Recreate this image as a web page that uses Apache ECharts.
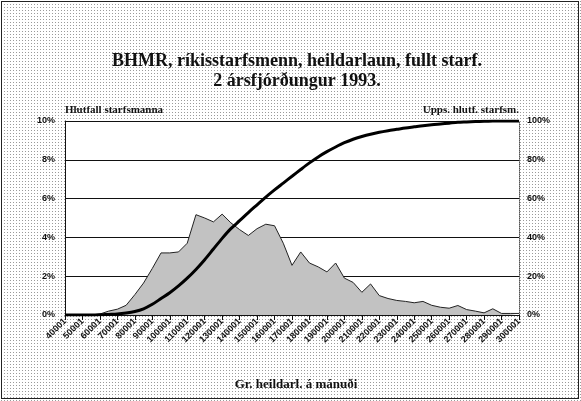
<!DOCTYPE html>
<html>
<head>
<meta charset="utf-8">
<script src="https://cdn.jsdelivr.net/npm/echarts@6/dist/echarts.min.js"></script>
<style>
    html, body {
        margin: 0;
        padding: 0;
        width: 581px;
        height: 401px;
        overflow: hidden;
        background-color: #fff;
        background-image: radial-gradient(#9a9a9a 0.7px, transparent 0.9px);
        background-size: 3px 3px;
    }
    .frame {
        position: absolute;
        left: 1px;
        top: 1px;
        width: 576px;
        height: 396px;
        border: 1px solid #222;
    }
    #chart {
        position: absolute;
        left: 0;
        top: 0;
        width: 581px;
        height: 401px;
    }
</style>
</head>
<body>
<div class="frame"></div>
<div id="chart"></div>
<script>
// launaflokkar (neðri mörk), 5000 kr. bil
const categories = [
    '40001', '45001', '50001', '55001', '60001', '65001', '70001', '75001', '80001', '85001',
    '90001', '95001', '100001', '105001', '110001', '115001', '120001', '125001', '130001', '135001',
    '140001', '145001', '150001', '155001', '160001', '165001', '170001', '175001', '180001', '185001',
    '190001', '195001', '200001', '205001', '210001', '215001', '220001', '225001', '230001', '235001',
    '240001', '245001', '250001', '255001', '260001', '265001', '270001', '275001', '280001', '285001',
    '290001', '295001', '300001'
]

// hlutfall starfsmanna (%)
const shareValues = [
    0, 0, 0, 0, 0.05, 0.2, 0.3, 0.5, 1.05, 1.65,
    2.4, 3.2, 3.2, 3.25, 3.7, 5.17, 5.0, 4.8, 5.2, 4.75,
    4.4, 4.1, 4.45, 4.68, 4.6, 3.7, 2.56, 3.25, 2.68, 2.48,
    2.22, 2.68, 1.9, 1.68, 1.17, 1.6, 1.0, 0.85, 0.75, 0.7,
    0.63, 0.7, 0.5, 0.4, 0.35, 0.49, 0.28, 0.2, 0.11, 0.32,
    0.08, 0.08, 0.08
]

// uppsafnað hlutfall starfsmanna (%)
const cumulativeValues = [
    0, 0, 0, 0, 0.1, 0.3, 0.5, 1.0, 1.8, 3.2,
    5.5, 8.5, 11.5, 15, 19, 23.5, 28.5, 34, 39.5, 44.5,
    48.6, 52.8, 56.8, 60.8, 64.5, 68, 71.5, 75, 78.4, 81.5,
    84.2, 86.6, 88.8, 90.6, 92, 93.2, 94.2, 95, 95.7, 96.4,
    97, 97.6, 98.1, 98.5, 98.9, 99.3, 99.5, 99.7, 99.85, 99.95,
    100, 100, 100
]

const leftTicks = [0, 2, 4, 6, 8, 10]
const rightTicks = [0, 20, 40, 60, 80, 100]

const serif = '"Liberation Serif", "DejaVu Serif", serif'
const sans = '"Liberation Sans", Arial, sans-serif'

let myChart = echarts.init(document.getElementById('chart'))
let option = {
    animation: false,
    title: [
        {
            text: 'BHMR, ríkisstarfsmenn, heildarlaun, fullt starf.\n2 ársfjórðungur 1993.',
            left: 292,
            top: 46,
            textAlign: 'center',
            textStyle: {
                fontFamily: serif,
                fontSize: 18,
                fontWeight: 'bold',
                color: '#111',
                lineHeight: 20
            }
        },
        {
            text: 'Gr. heildarl. á mánuði',
            left: 291,
            top: 373,
            textAlign: 'center',
            textStyle: {
                fontFamily: serif,
                fontSize: 13,
                fontWeight: 'bold',
                color: '#111'
            }
        }
    ],
    grid: {
        left: 65,
        right: 62,
        top: 121,
        bottom: 86,
        show: true,
        backgroundColor: '#fff',
        borderWidth: 0
    },
    xAxis: {
        type: 'category',
        data: categories,
        boundaryGap: false,
        axisLine: { lineStyle: { color: '#111', width: 1 } },
        axisTick: {
            interval: 1,
            length: 5,
            lineStyle: { color: '#111' }
        },
        axisLabel: {
            interval: 1,
            rotate: 45,
            margin: 5,
            fontFamily: sans,
            fontSize: 9,
            fontWeight: 'bold',
            color: '#111'
        },
        splitLine: { show: false }
    },
    yAxis: [
        {
            type: 'value',
            min: leftTicks[0],
            max: leftTicks[leftTicks.length - 1],
            interval: 2,
            name: 'Hlutfall starfsmanna',
            nameLocation: 'end',
            nameGap: 5,
            nameTextStyle: {
                align: 'left',
                fontFamily: serif,
                fontSize: 11,
                fontWeight: 'bold',
                color: '#111'
            },
            axisLine: { show: true, lineStyle: { color: '#111' } },
            axisTick: { show: false },
            axisLabel: {
                formatter: '{value}%',
                margin: 10,
                fontFamily: sans,
                fontSize: 9,
                fontWeight: 'bold',
                color: '#111'
            },
            splitLine: { lineStyle: { color: '#111', width: 1 } }
        },
        {
            type: 'value',
            min: rightTicks[0],
            max: rightTicks[rightTicks.length - 1],
            interval: 20,
            name: 'Upps. hlutf. starfsm.',
            nameLocation: 'end',
            nameGap: 5,
            nameTextStyle: {
                align: 'right',
                fontFamily: serif,
                fontSize: 11,
                fontWeight: 'bold',
                color: '#111'
            },
            axisLine: { show: true, lineStyle: { color: '#555', type: 'dotted' } },
            axisTick: { show: false },
            axisLabel: {
                formatter: '{value}%',
                margin: 8,
                fontFamily: sans,
                fontSize: 9,
                fontWeight: 'bold',
                color: '#111'
            },
            splitLine: { show: false }
        }
    ],
    series: [
        {
            name: 'Hlutfall starfsmanna',
            type: 'line',
            yAxisIndex: 0,
            data: shareValues,
            symbol: 'none',
            lineStyle: { color: '#222', width: 1 },
            areaStyle: { color: '#c2c2c2', opacity: 1 },
            z: 2
        },
        {
            name: 'Upps. hlutf. starfsm.',
            type: 'line',
            yAxisIndex: 1,
            data: cumulativeValues,
            symbol: 'none',
            smooth: 0.3,
            lineStyle: { color: '#000', width: 3 },
            z: 3
        }
    ]
}

myChart.setOption(option)
</script>
</body>
</html>
